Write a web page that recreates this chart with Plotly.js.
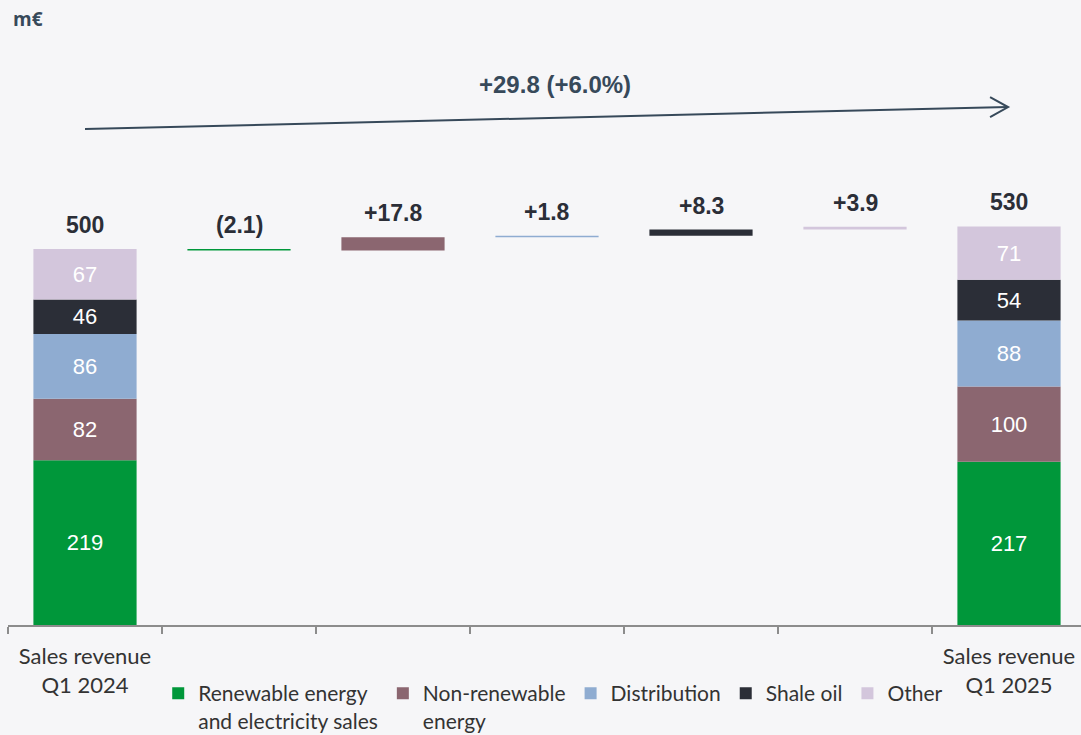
<!DOCTYPE html>
<html>
<head>
<meta charset="utf-8">
<script src="https://cdn.plot.ly/plotly-3.0.1.min.js"></script>
<style>
  html, body { margin: 0; padding: 0; background: #F6F6F8; }
  #chart { width: 1081px; height: 735px; }
</style>
</head>
<body>
<div id="chart"></div>
<script>
// Sales revenue bridge, Q1 2024 -> Q1 2025 (m€)
const periodLabels = ['Sales revenue<br>Q1 2024', 'Sales revenue<br>Q1 2025'];
const segmentNames = ['Renewable energy<br>and electricity sales', 'Non-renewable<br>energy', 'Distribution', 'Shale oil', 'Other'];
const revenueQ1_2024 = [219, 82, 86, 46, 67];
const revenueQ1_2025 = [217, 100, 88, 54, 71];
const segmentChange = [-2.1, 17.8, 1.8, 8.3, 3.9];
const changeLabels = ['(2.1)', '+17.8', '+1.8', '+8.3', '+3.9'];
const totalChangeLabel = '+29.8 (+6.0%)';
const segmentColors = ['#00973A', '#8B6670', '#8FACD1', '#2B2E37', '#D3C6DC'];

const sum = a => a.reduce((s, v) => s + v, 0);
const total2024 = sum(revenueQ1_2024);
const total2025 = sum(revenueQ1_2025);
const lastX = segmentNames.length + 1;

// one trace per segment: stacked part of each period bar plus its floating bridge step
const traces = [];
let base2024 = 0, base2025 = 0, running = total2024;
segmentNames.forEach((name, i) => {
  traces.push({
    type: 'bar',
    name: name,
    x: [0, i + 1, lastX],
    base: [base2024, running, base2025],
    y: [revenueQ1_2024[i], segmentChange[i], revenueQ1_2025[i]],
    text: [String(revenueQ1_2024[i]), '', String(revenueQ1_2025[i])],
    textposition: 'inside',
    insidetextanchor: 'middle',
    textangle: 0,
    constraintext: 'none',
    textfont: { family: 'Liberation Sans, Arial, sans-serif', size: 22, color: '#FFFFFF' },
    marker: { color: segmentColors[i], line: { width: 0 } },
    width: 0.67,
    hoverinfo: 'skip'
  });
  base2024 += revenueQ1_2024[i];
  base2025 += revenueQ1_2025[i];
  running += segmentChange[i];
});

const pxPerUnit = 0.752;
const plotHeight = 735 - 40 - 110;
const boldFont = { family: 'Liberation Sans, Arial, sans-serif', size: 23, color: '#2B2E37' };

const annotations = [];
// period totals
[[0, total2024], [lastX, total2025]].forEach(([x, v]) => {
  annotations.push({ x: x, y: v, text: '<b>' + v + '</b>', showarrow: false,
    yanchor: 'bottom', yshift: 9, font: boldFont });
});
// bridge step labels
running = total2024;
segmentChange.forEach((d, i) => {
  annotations.push({ x: i + 1, y: Math.max(running, running + d), text: '<b>' + changeLabels[i] + '</b>',
    showarrow: false, yanchor: 'bottom', yshift: 9, font: boldFont });
  running += d;
});
// overall change label
annotations.push({ x: 3.05, y: 719, text: '<b>' + totalChangeLabel + '</b>', showarrow: false,
  font: { family: 'Liberation Sans Narrow, Arial Narrow, sans-serif', size: 24, color: '#37495A' } });
// unit label
annotations.push({ xref: 'paper', yref: 'paper', x: 0.003, y: 1, yshift: 21, xanchor: 'left', yanchor: 'middle',
  text: '<b>m€</b>', showarrow: false,
  font: { family: 'Open Sans, sans-serif', size: 19, color: '#37495A' } });

const layout = {
  width: 1081, height: 735,
  margin: { l: 8, r: 0, t: 40, b: 110, pad: 0, autoexpand: false },
  paper_bgcolor: '#F6F6F8', plot_bgcolor: '#F6F6F8',
  barmode: 'overlay',
  showlegend: true,
  legend: {
    orientation: 'h', x: 0.14, xanchor: 'left',
    yref: 'container', y: 1 - 673 / 735, yanchor: 'top',
    valign: 'top', traceorder: 'normal',
    font: { family: 'Lato, sans-serif', size: 21, color: '#333333' },
    itemwidth: 30, tracegroupgap: 0, bgcolor: 'rgba(0,0,0,0)'
  },
  xaxis: {
    type: 'linear', range: [-0.5, 1073 / 154 - 0.5], fixedrange: true,
    showgrid: false, zeroline: false,
    showline: true, linecolor: '#8C8C8C', linewidth: 2,
    tickmode: 'array', tickvals: [0, lastX], ticktext: periodLabels, ticks: '',
    ticklabelstandoff: 11,
    tickfont: { family: 'Lato, sans-serif', size: 22, color: '#333333' },
    minor: { tickmode: 'array', tickvals: [-0.5, 0.5, 1.5, 2.5, 3.5, 4.5, 5.5],
      ticks: 'outside', ticklen: 7, tickwidth: 2, tickcolor: '#8C8C8C', showgrid: false }
  },
  yaxis: {
    range: [0, plotHeight / pxPerUnit], visible: false, fixedrange: true, showgrid: false, zeroline: false
  },
  shapes: [
    // overall growth arrow
    { type: 'line', xref: 'x', yref: 'y', x0: 0, y0: 659.6, x1: 5.994, y1: 688.8,
      line: { color: '#37495A', width: 2 } },
    { type: 'path', xref: 'x', yref: 'y',
      path: 'M 5.877 702.1 L 5.994 688.8 L 5.877 675.5',
      line: { color: '#37495A', width: 2 } }
  ],
  annotations: annotations
};

Plotly.newPlot('chart', traces, layout, { displayModeBar: false, staticPlot: true });
</script>
</body>
</html>
